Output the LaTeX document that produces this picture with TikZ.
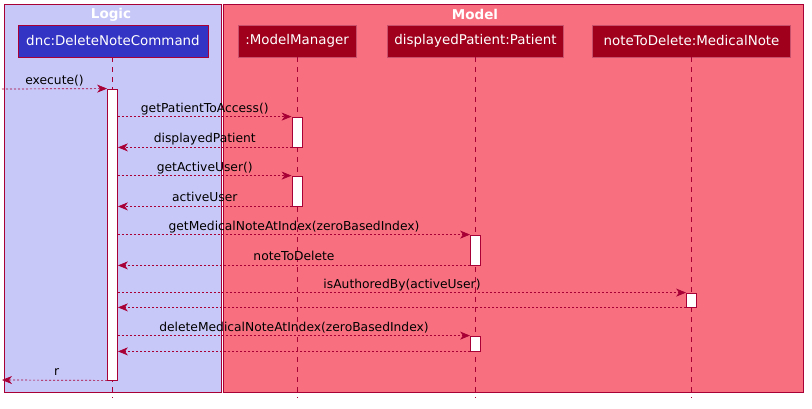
\documentclass[tikz,border=0pt]{standalone}
\usepackage{fontspec}
\setmainfont{DejaVu Sans}
\usetikzlibrary{arrows.meta}
\definecolor{bordc}{HTML}{A80036}
\definecolor{logicfill}{HTML}{C8C8F8}
\definecolor{modelfill}{HTML}{F87080}
\definecolor{dncfill}{HTML}{3333C4}
\definecolor{partfill}{HTML}{A0001C}
\definecolor{partbord}{HTML}{C8506A}
\tikzset{
  grp/.style={draw=bordc, line width=0.8pt, inner sep=0pt},
  grptitle/.style={text=white, font=\fontsize{13.5}{15}\selectfont\bfseries, inner sep=0pt},
  part/.style={draw=bordc, line width=0.8pt, text=white, minimum height=32, inner sep=0pt, font=\fontsize{13.4}{15}\selectfont},
  life/.style={draw=bordc, line width=0.7pt, dash pattern=on 5pt off 5pt},
  act/.style={draw=bordc, fill=white, line width=0.8pt, minimum width=10, inner sep=0pt},
  msg/.style={draw=bordc, line width=0.7pt, dash pattern=on 2pt off 2pt, -{Stealth[length=10pt,width=8pt,inset=3pt]}},
  lbl/.style={font=\fontsize{12.3}{14}\selectfont, text=black, inner sep=0pt, anchor=base, yshift=4.5pt}
}
\begin{document}
\begin{tikzpicture}[x=1pt,y=-1pt]
\useasboundingbox (0,0) rectangle (812,409);
% group boxes
\node[grp, fill=logicfill, minimum width=217, minimum height=388] (logic) at (112.5,198) {};
\node[grp, fill=modelfill, minimum width=580, minimum height=388] (model) at (513,198) {};
\node[grptitle] (logict) at (111,14.5) {Logic};
\node[grptitle] (modelt) at (475,14.5) {Model};
% participants
\node[part, fill=dncfill, minimum width=190] (dnc) at (113,41) {dnc:DeleteNoteCommand};
\node[part, fill=partfill, draw=partbord, minimum width=118] (mm) at (297,41) {:ModelManager};
\node[part, fill=partfill, draw=partbord, minimum width=176] (pat) at (475.5,41) {displayedPatient:Patient};
\node[part, fill=partfill, draw=partbord, minimum width=198] (note) at (691.5,41) {noteToDelete:MedicalNote};
% lifeline ends
\coordinate (dncend) at (112.5,398);
\coordinate (mmend) at (297,398);
\coordinate (patend) at (475.5,398);
\coordinate (noteend) at (691.5,398);
\draw[life] (dnc.south -| dncend) -- (dncend);
\draw[life] (mm.south) -- (mmend);
\draw[life] (pat.south) -- (patend);
\draw[life] (note.south) -- (noteend);
% activations
\node[act, minimum height=291] (a0) at (112.5,234.5) {};
\node[act, minimum height=30] (m1) at (297,132) {};
\node[act, minimum height=30] (m2) at (297,191) {};
\node[act, minimum height=30] (p1) at (475.5,250) {};
\node[act, minimum height=14] (n1) at (691.5,300) {};
\node[act, minimum height=15] (p2) at (475.5,343.5) {};
% free ends
\coordinate (start) at (2,89);
\coordinate (finish) at (2,380);
% messages
\draw[msg] (start) -- (a0.north west) node[lbl, midway] (l0) {execute()};
\draw[msg] (a0.east |- m1.north) -- (m1.north west) node[lbl, midway] (l1) {getPatientToAccess()};
\draw[msg] (m1.south west) -- (a0.east |- m1.south) node[lbl, midway] (l2) {displayedPatient};
\draw[msg] (a0.east |- m2.north) -- (m2.north west) node[lbl, midway] (l3) {getActiveUser()};
\draw[msg] (m2.south west) -- (a0.east |- m2.south) node[lbl, midway] (l4) {activeUser};
\draw[msg] (a0.east |- p1.north) -- (p1.north west) node[lbl, midway] (l5) {getMedicalNoteAtIndex(zeroBasedIndex)};
\draw[msg] (p1.south west) -- (a0.east |- p1.south) node[lbl, midway] (l6) {noteToDelete};
\draw[msg] (a0.east |- n1.north) -- (n1.north west) node[lbl, midway] (l7) {isAuthoredBy(activeUser)};
\draw[msg] (n1.south west) -- (a0.east |- n1.south);
\draw[msg] (a0.east |- p2.north) -- (p2.north west) node[lbl, midway] (l8) {deleteMedicalNoteAtIndex(zeroBasedIndex)};
\draw[msg] (p2.south west) -- (a0.east |- p2.south);
\draw[msg] (a0.south west) -- (finish) node[lbl, midway, xshift=2pt] (l9) {r};
\end{tikzpicture}
\end{document}
